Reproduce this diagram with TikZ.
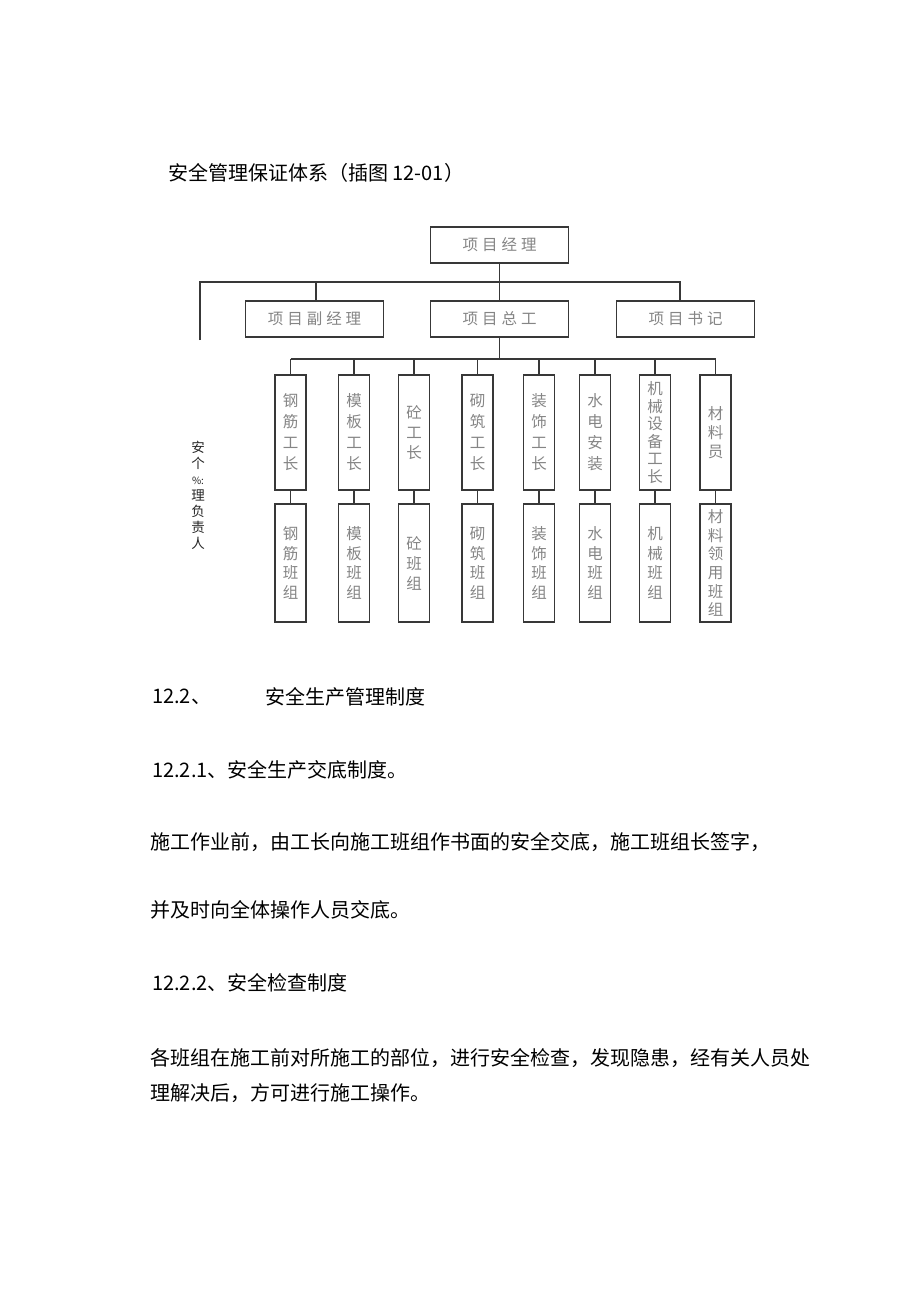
\documentclass[tikz,border=0pt]{standalone}
\usepackage{fontspec}
\newfontfamily\cjk{Noto Sans CJK SC}
\tikzset{
  orgline/.style={line width=1.4pt, draw=black!78},
  hbox/.style={draw=black!78, line width=1.5pt, minimum width=138pt, minimum height=36pt, inner sep=0pt,
    font=\cjk\fontsize{15.5}{17}\selectfont, text=black!48},
  vbox/.style={draw=black!78, line width=1.5pt, minimum width=31pt, inner sep=0pt, align=center,
    text=black!48},
  upbox/.style={vbox, minimum height=115pt},
  lowbox/.style={vbox, minimum height=118pt},
  para/.style={anchor=west, inner sep=0pt, font=\cjk\fontsize{20}{24}\selectfont, text=black},
}
\newcommand{\vf}[1]{\cjk\fontsize{15.5}{#1}\selectfont}
\newcommand{\ks}{\kern4pt}
\begin{document}
\begin{tikzpicture}[x=1pt,y=-1pt]
\useasboundingbox (0,0) rectangle (920,1301);
\fill[white] (0,0) rectangle (920,1301);

% title
\node[para] (title) at (168,173) {安全管理保证体系（插图 12-01）};

% top levels
\node[hbox] (pm) at (499.5,245) {项\ks 目\ks 经\ks 理};
\node[hbox] (dpm) at (314.5,319) {项\ks 目\ks 副\ks 经\ks 理};
\node[hbox] (ce) at (499.5,319) {项\ks 目\ks 总\ks 工};
\node[hbox] (sec) at (685.5,319) {项\ks 目\ks 书\ks 记};

\coordinate (busL) at (200,282);
\coordinate (busR) at (680,282);
\coordinate (busD) at (316,282);
\coordinate (leftEnd) at (200,340);
\draw[orgline] (leftEnd) -- (busL) -- (busR) -- (busR |- sec.north);
\draw[orgline] (pm.south) -- (ce.north);
\draw[orgline] (busD) -- (busD |- dpm.north);

% third bus
\coordinate (b2L) at (290.5,359);
\coordinate (b2R) at (715.5,359);
\draw[orgline] (ce.south) -- (ce.south |- b2L);
\draw[orgline] (b2L) -- (b2R);

% upper boxes
\node[upbox, font=\vf{21}] (u1) at (290.5,432.5) {钢\\筋\\工\\长};
\node[upbox, font=\vf{21}] (u2) at (354,432.5) {模\\板\\工\\长};
\node[upbox, font=\vf{20}] (u3) at (414,432.5) {砼\\工\\长};
\node[upbox, font=\vf{21}] (u4) at (477.5,432.5) {砌\\筑\\工\\长};
\node[upbox, font=\vf{21}] (u5) at (539,432.5) {装\\饰\\工\\长};
\node[upbox, font=\vf{21}] (u6) at (595,432.5) {水\\电\\安\\装};
\node[upbox, font=\vf{17.6}] (u7) at (655,432.5) {机\\械\\设\\备\\工\\长};
\node[upbox, font=\vf{19}] (u8) at (715.5,432.5) {材\\料\\员};

% lower boxes
\node[lowbox, font=\vf{19.5}] (l1) at (290.5,563) {钢\\筋\\班\\组};
\node[lowbox, font=\vf{19.5}] (l2) at (354,563) {模\\板\\班\\组};
\node[lowbox, font=\vf{20}] (l3) at (414,563) {砼\\班\\组};
\node[lowbox, font=\vf{19.5}] (l4) at (477.5,563) {砌\\筑\\班\\组};
\node[lowbox, font=\vf{19.5}] (l5) at (539,563) {装\\饰\\班\\组};
\node[lowbox, font=\vf{19.5}] (l6) at (595,563) {水\\电\\班\\组};
\node[lowbox, font=\vf{19.5}] (l7) at (655,563) {机\\械\\班\\组};
\node[lowbox, font=\vf{18.7}] (l8) at (715.5,563) {材\\料\\领\\用\\班\\组};

\foreach \i in {1,...,8}{
  \draw[orgline] (u\i.north |- b2L) -- (u\i.north);
  \draw[orgline] (u\i.south) -- (l\i.north);
}

% side label
\node[inner sep=0pt, align=center, text=black!85, font=\cjk\fontsize{13.5}{16}\selectfont] (side) at (198,495)
  {安\\个\\{\fontsize{10}{11}\selectfont\%:}\\理\\负\\责\\人};

% paragraphs
\node[para] (h122n) at (152,697) {12.2、};
\node[para] (h122) at (265,697) {安全生产管理制度};
\node[para] (h1221) at (152,770) {12.2.1、安全生产交底制度。};
\node[para] (p1a) at (150,842) {施工作业前，由工长向施工班组作书面的安全交底，施工班组长签字，};
\node[para] (p1b) at (150,910) {并及时向全体操作人员交底。};
\node[para] (h1222) at (152,983) {12.2.2、安全检查制度};
\node[para] (p2a) at (150,1058) {各班组在施工前对所施工的部位，进行安全检查，发现隐患，经有关人员处};
\node[para] (p2b) at (150,1093) {理解决后，方可进行施工操作。};
\end{tikzpicture}
\end{document}
